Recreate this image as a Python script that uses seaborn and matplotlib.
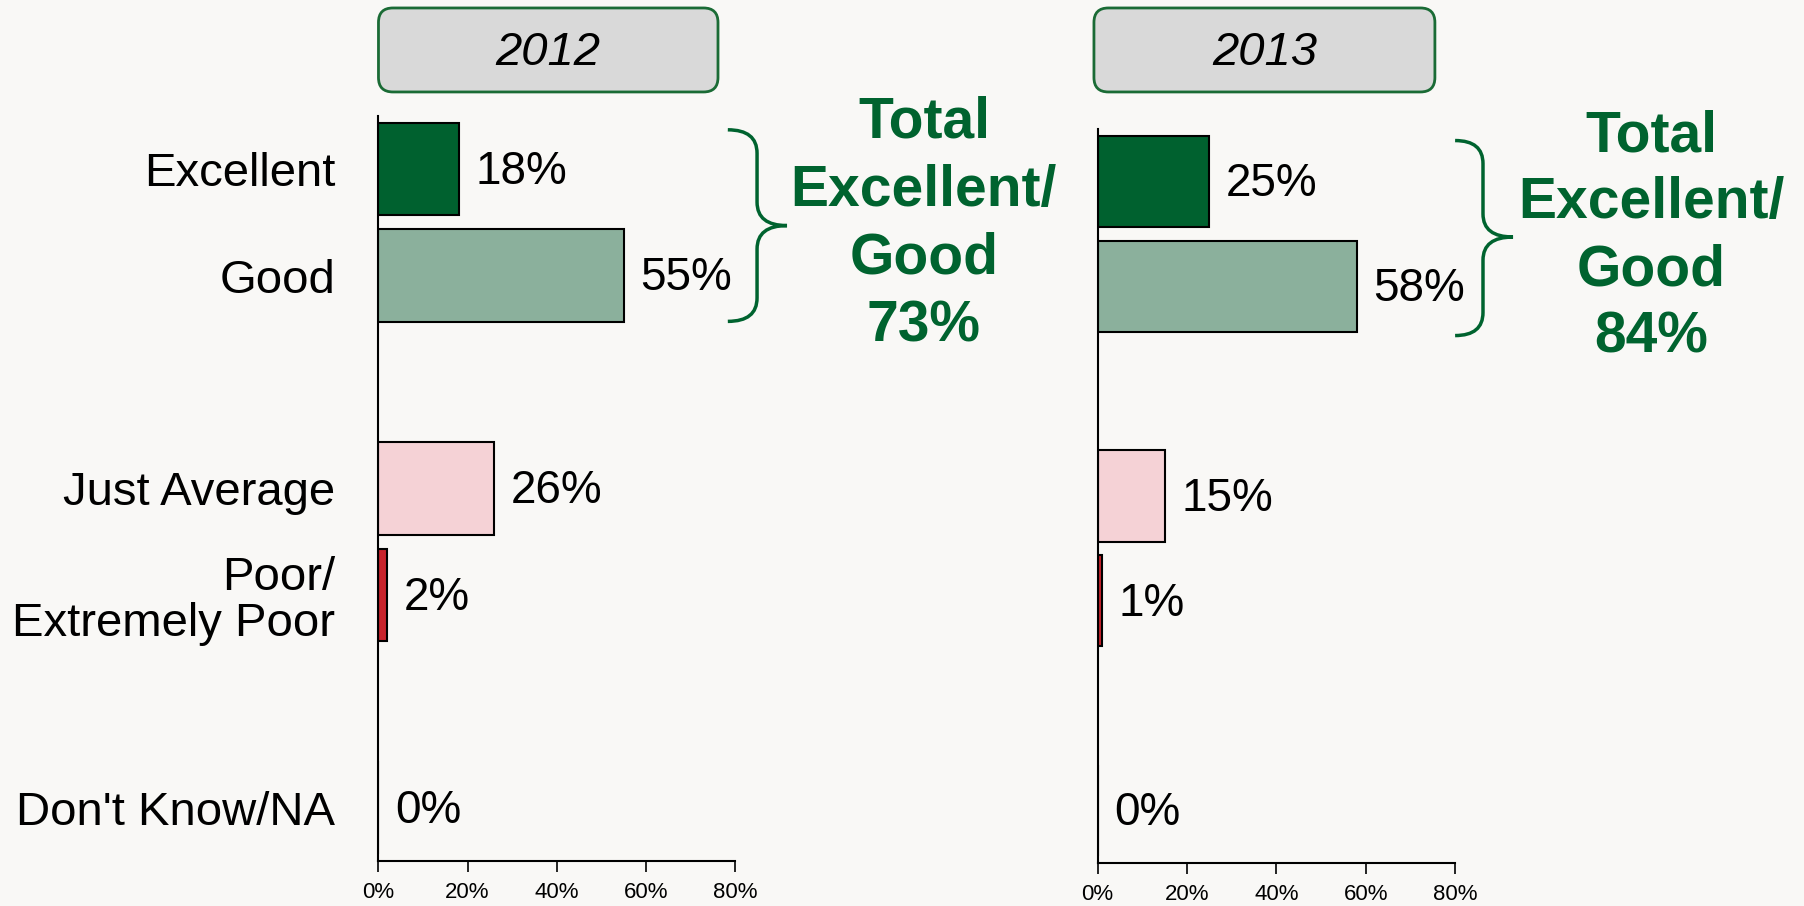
import numpy as np
import pandas as pd
import seaborn as sns
from matplotlib import pyplot as plt
from matplotlib.patches import FancyBboxPatch, PathPatch
from matplotlib.path import Path
from matplotlib import transforms

# datos
categorias = ["Excellent", "Good", "Just Average", "Poor/\nExtremely Poor", "Don't Know/NA"]
posiciones = [0, 1, 3, 4, 6]
valores_2012 = [18, 55, 26, 2, 0]
valores_2013 = [25, 58, 15, 1, 0]
total_2012 = 73
total_2013 = 84
anios = ["2012", "2013"]
colores = ["#00612F", "#8BB09C", "#F5D2D6", "#C8232C", "#C8232C"]
ticks_x = [0, 20, 40, 60, 80]

FONDO = "#F9F8F6"
VERDE = "#00632F"

sns.set_style("white")
plt.rcParams["font.family"] = ["Liberation Sans", "DejaVu Sans"]
plt.rcParams["text.color"] = "black"
plt.rcParams["xtick.color"] = "black"
plt.rcParams["ytick.color"] = "black"
plt.rcParams["axes.labelcolor"] = "black"

fig = plt.figure(figsize=(18.04, 9.06), dpi=100, facecolor=FONDO)
ax1 = fig.add_axes([0.2098, 0.0497, 0.1976, 0.8223])
ax2 = fig.add_axes([0.6084, 0.0475, 0.1982, 0.8101])


def dibujar_panel(ax, valores, mostrar_categorias):
    df = pd.DataFrame({"cat": categorias, "pos": posiciones, "valor": valores})
    sns.barplot(data=df, x="valor", y="pos", hue="cat", orient="h",
                native_scale=True, palette=dict(zip(categorias, colores)),
                saturation=1, width=0.87, edgecolor="black", linewidth=1.5,
                legend=False, ax=ax)
    ax.set_facecolor(FONDO)
    ax.set_xlim(0, 80)
    ax.set_ylim(6.5, -0.5)
    for v, p in zip(valores, posiciones):
        ax.annotate(f"{v}%", (v, p), xytext=(12, -2), textcoords="offset points",
                    va="center", ha="left", fontsize=33)
    ax.set_xticks(ticks_x)
    ax.set_xticklabels([f"{t}%" for t in ticks_x], fontsize=16,
                       family=["Liberation Sans Narrow", "Liberation Sans"])
    ax.tick_params(axis="x", length=8, width=1.2, pad=7, direction="out", bottom=True)
    ax.set_yticks(posiciones)
    if mostrar_categorias:
        ax.set_yticklabels(categorias, fontsize=34, linespacing=1.05)
    else:
        ax.set_yticklabels([])
    ax.tick_params(axis="y", length=0, pad=31)
    for lado in ["top", "right"]:
        ax.spines[lado].set_visible(False)
    for lado in ["left", "bottom"]:
        ax.spines[lado].set_color("black")
        ax.spines[lado].set_linewidth(1.5)
    ax.set_xlabel("")
    ax.set_ylabel("")


def llave(ax, x0, x1, xp, ytop, ybot, ymid):
    # llave "}" en coordenadas mezcladas (x ejes, y datos)
    trans = transforms.blended_transform_factory(ax.transAxes, ax.transData)
    r = 0.22
    verts = [(x0, ytop), (x1, ytop), (x1, ytop + r),
             (x1, ymid - r),
             (x1, ymid), (xp, ymid),
             (x1, ymid), (x1, ymid + r),
             (x1, ybot - r),
             (x1, ybot), (x0, ybot)]
    codes = [Path.MOVETO, Path.CURVE3, Path.CURVE3,
             Path.LINETO,
             Path.CURVE3, Path.CURVE3,
             Path.CURVE3, Path.CURVE3,
             Path.LINETO,
             Path.CURVE3, Path.CURVE3]
    ax.add_patch(PathPatch(Path(verts, codes), transform=trans, facecolor="none",
                           edgecolor=VERDE, linewidth=2.5, clip_on=False))


dibujar_panel(ax1, valores_2012, True)
dibujar_panel(ax2, valores_2013, False)

llave(ax1, 0.98, 1.062, 1.146, -0.37, 1.43, 0.53)
llave(ax2, 1.0, 1.078, 1.162, -0.39, 1.47, 0.53)

ax1.text(1.53, 0.52, f"Total\nExcellent/\nGood\n{total_2012}%", transform=transforms.blended_transform_factory(ax1.transAxes, ax1.transData),
         ha="center", va="center", fontsize=41, fontweight="bold", color=VERDE, linespacing=1.33)
ax2.text(1.548, 0.53, f"Total\nExcellent/\nGood\n{total_2013}%", transform=transforms.blended_transform_factory(ax2.transAxes, ax2.transData),
         ha="center", va="center", fontsize=41, fontweight="bold", color=VERDE, linespacing=1.31)

# cajas de titulo
cajas = [(0.2098, 0.398), (0.6064, 0.7954)]
for (xa, xb), anio in zip(cajas, anios):
    caja = FancyBboxPatch((xa, 0.8985), xb - xa, 0.0927,
                          boxstyle="round,pad=0,rounding_size=0.008",
                          mutation_aspect=1804 / 906, transform=fig.transFigure,
                          facecolor="#D9D9D9", edgecolor="#1A6B35", linewidth=2)
    fig.patches.append(caja)
    fig.text((xa + xb) / 2, 0.8985 + 0.0927 / 2 - 0.003, anio, ha="center", va="center",
             fontsize=34, style="italic")

plt.savefig("out.png", dpi=100, facecolor=FONDO)
